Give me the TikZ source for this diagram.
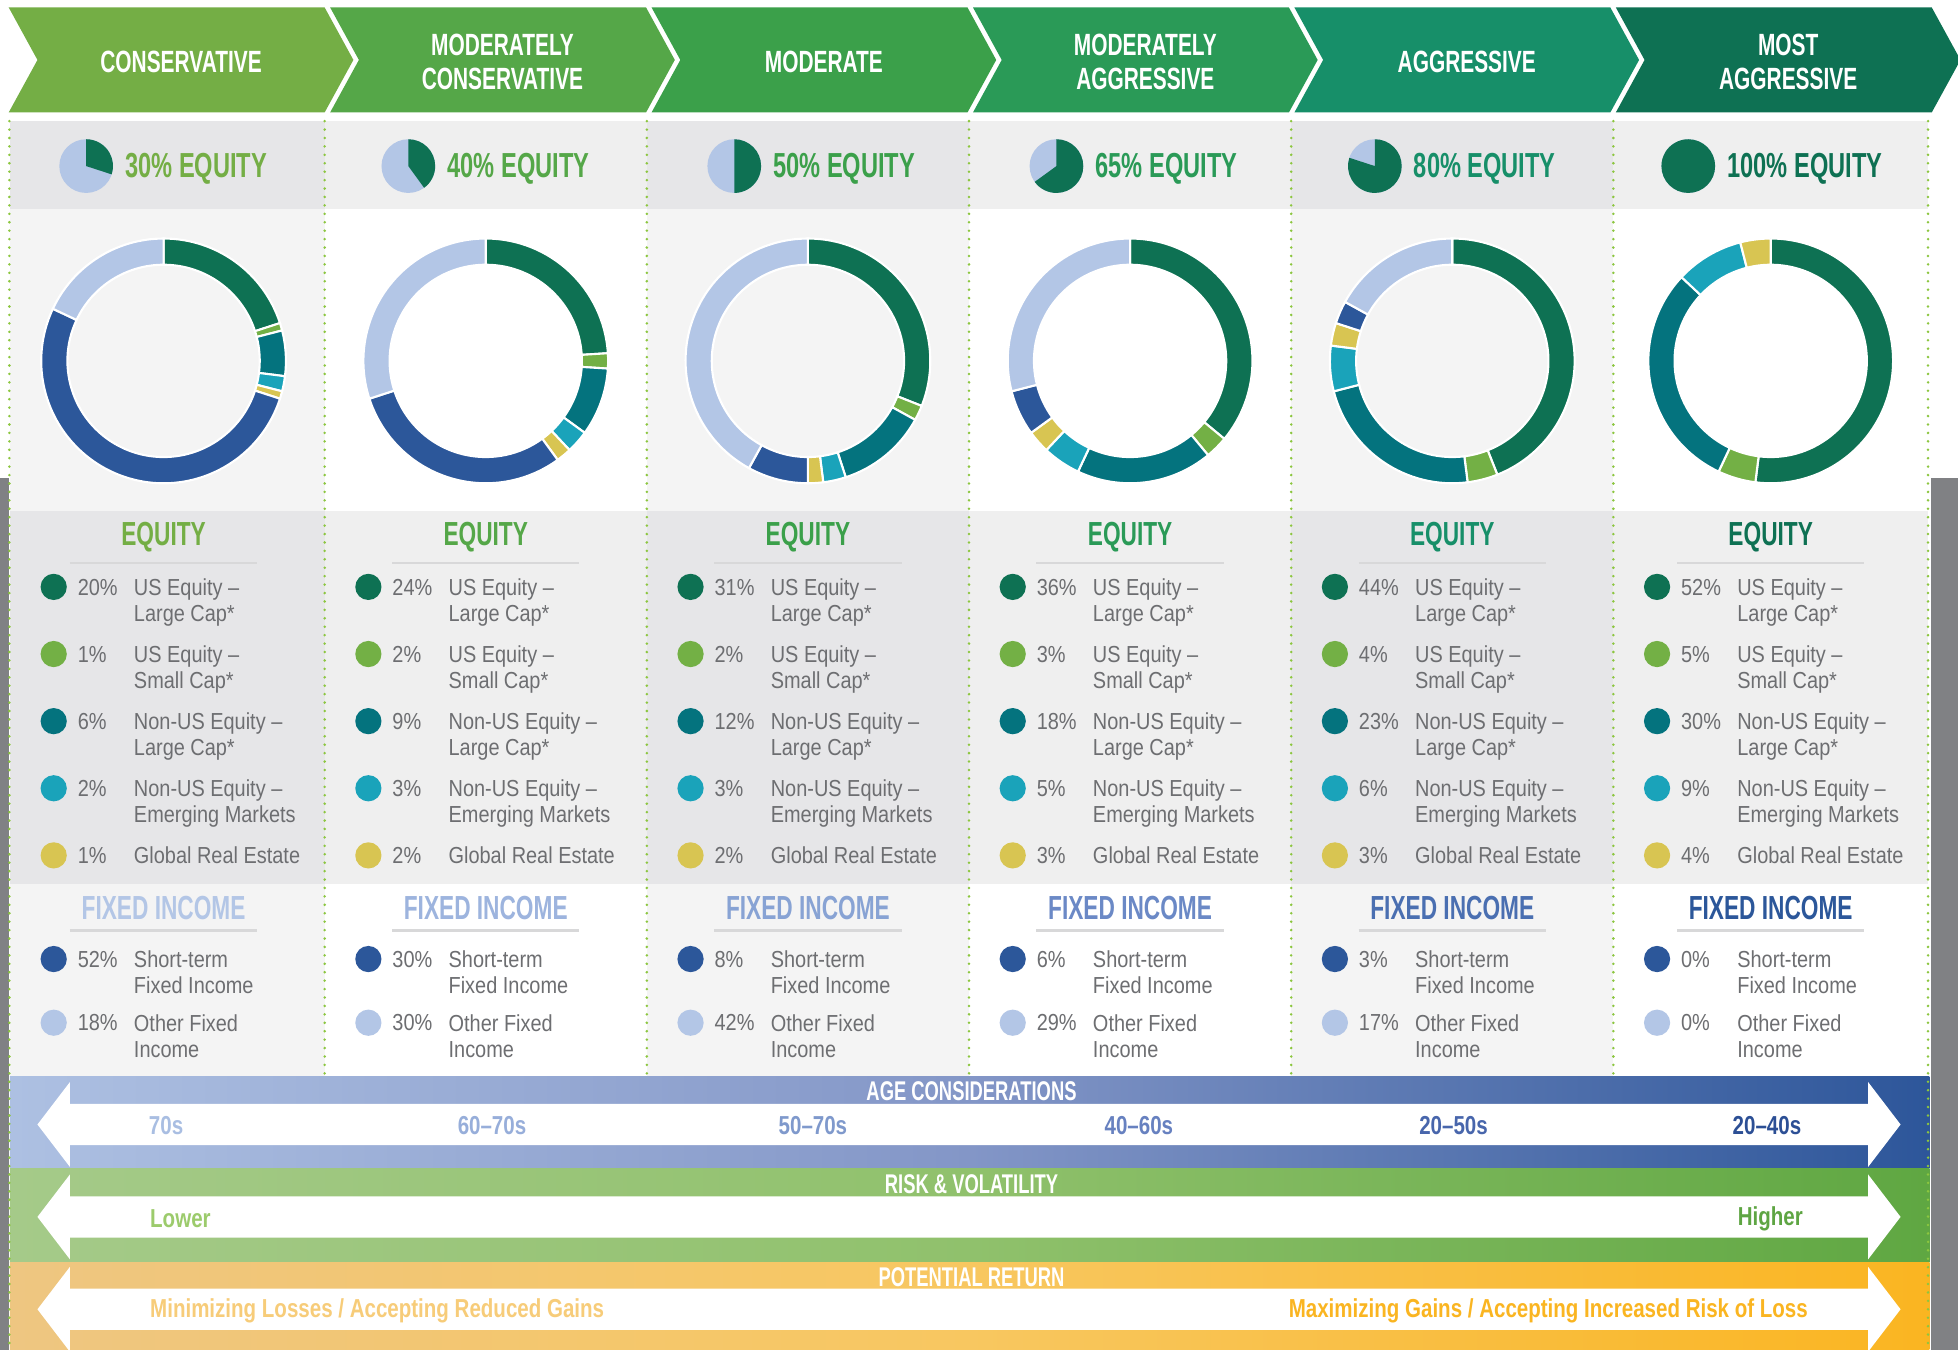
\documentclass[tikz,border=0pt]{standalone}
\usepackage{fontspec}
\usepackage{tikz}
\usetikzlibrary{positioning,calc}
\setmainfont{Liberation Sans}[FakeStretch=0.86]
\newfontfamily\condfont{Liberation Sans}[FakeStretch=0.68]
\newfontfamily\bandfont{Liberation Sans}[FakeStretch=0.79]

\definecolor{chev1}{HTML}{74AE45}
\definecolor{chev2}{HTML}{55A748}
\definecolor{chev3}{HTML}{3BA04A}
\definecolor{chev4}{HTML}{2A9A57}
\definecolor{chev5}{HTML}{178F69}
\definecolor{chev6}{HTML}{0E7153}
\definecolor{fic1}{HTML}{B3C6E6}
\definecolor{fic2}{HTML}{9DB4DE}
\definecolor{fic3}{HTML}{88A3D4}
\definecolor{fic4}{HTML}{6B89C6}
\definecolor{fic5}{HTML}{4A6FB1}
\definecolor{fic6}{HTML}{2C579A}
\definecolor{age1}{HTML}{A9BEE2}
\definecolor{age2}{HTML}{97AEDA}
\definecolor{age3}{HTML}{7F99CC}
\definecolor{age4}{HTML}{6781C0}
\definecolor{age5}{HTML}{4866AC}
\definecolor{age6}{HTML}{2C4F95}
\definecolor{usL}{HTML}{0E7153}
\definecolor{usS}{HTML}{73B045}
\definecolor{nuL}{HTML}{04737E}
\definecolor{nuE}{HTML}{1AA3BA}
\definecolor{gre}{HTML}{D8C552}
\definecolor{stf}{HTML}{2C579A}
\definecolor{ofi}{HTML}{B3C6E6}
\definecolor{txtgray}{HTML}{6D6E71}
\definecolor{bgA}{HTML}{E6E6E8}
\definecolor{bgB}{HTML}{F4F4F4}
\definecolor{bgC}{HTML}{EFEFEF}
\definecolor{rulegray}{HTML}{D8D8D9}
\definecolor{dotgreen}{HTML}{8CC63F}
\definecolor{sidegray}{HTML}{808184}
\definecolor{ageL}{HTML}{ADC0E2}
\definecolor{ageM}{HTML}{8396C7}
\definecolor{ageR}{HTML}{2D569A}
\definecolor{riskL}{HTML}{A5CA89}
\definecolor{riskM}{HTML}{90C16C}
\definecolor{riskR}{HTML}{5FA742}
\definecolor{retL}{HTML}{EEC681}
\definecolor{retM}{HTML}{F8C760}
\definecolor{retR}{HTML}{FAB521}
\definecolor{lowc}{HTML}{9CCB6C}
\definecolor{highc}{HTML}{5EA543}
\definecolor{minc}{HTML}{F7CC79}
\definecolor{maxc}{HTML}{FAB521}

\begin{document}
\begin{tikzpicture}[x=0.25mm, y=-0.25mm,
        every node/.style = {inner sep=0pt},
        chevtitle/.style = {text=white, align=center, font=\condfont\bfseries\fontsize{17.5}{19}\selectfont},
        eqlabel/.style = {anchor=base west, font=\condfont\bfseries\fontsize{19.8}{21}\selectfont},
        sechead/.style = {anchor=base, font=\condfont\bfseries\fontsize{19}{21}\selectfont},
        pct/.style = {anchor=base west, text=txtgray, font=\fontsize{13.2}{14.9}\selectfont},
        itemtxt/.style = {pct, anchor=north west, align=left},
        bandtitle/.style = {text=white, font=\condfont\bfseries\fontsize{15.4}{17}\selectfont},
        bandtxt/.style = {font=\bandfont\bfseries\fontsize{14.8}{16}\selectfont},
        headrule/.style = {draw=rulegray, line width=1.4pt},
        colline/.style = {draw=dotgreen, line width=1.6pt, line cap=round, dash pattern=on 0pt off 4.8pt}]
    \useasboundingbox (0,0) rectangle (1568,1081);
    \foreach \i/\t in {1/CONSERVATIVE, 2/{MODERATELY\\CONSERVATIVE}, 3/MODERATE, 4/{MODERATELY\\AGGRESSIVE}, 5/AGGRESSIVE, 6/{MOST\\AGGRESSIVE}}{
        \pgfmathsetmacro\chx{7+257.4*(\i-1)}
        \fill[chev\i] (\chx,6) -- (\chx+253,6) -- (\chx+276,48) -- (\chx+253,90) -- (\chx,90) -- (\chx+23,48) -- cycle;
        \node[chevtitle] (plan\i) at (\chx+138,49.5) {\t};
    }
    \foreach \cl/\cr/\ta/\tb in {8/260/bgA/bgB, 260/518/bgC/white, 518/776/bgA/bgB, 776/1034/bgC/white, 1034/1292/bgA/bgB, 1292/1544/bgC/white}{
        \fill[\ta] (\cl,97) rectangle (\cr,167);
        \fill[\tb] (\cl,167) rectangle (\cr,409);
        \fill[\ta] (\cl,409) rectangle (\cr,708);
        \fill[\tb] (\cl,708) rectangle (\cr,862);
    }
    \foreach \x in {260,518,776,1034,1292}
        \draw[colline] (\x,97) -- (\x,862);
    \foreach \i/\cl/\cx/\px/\eq/\pa/\pb/\pc/\pd/\pe/\pf/\pg in {1/8/131/69/30/20/1/6/2/1/52/18, 2/260/389/327/40/24/2/9/3/2/30/30, 3/518/647/588/50/31/2/12/3/2/8/42, 4/776/905/846/65/36/3/18/5/3/6/29, 5/1034/1163/1101/80/44/4/23/6/3/3/17, 6/1292/1418/1352/100/52/5/30/9/4/0/0}{
        \fill[ofi] (\px,133) circle[radius=21.5];
        \fill[usL] (\px,133) -- ($(\px,133)+(-90:21.5)$) arc[start angle=-90, delta angle=3.6*\eq, radius=21.5] -- cycle;
        \node[eqlabel, text=chev\i] (eq\i) at (\px+31,142.5) {\eq\% EQUITY};
        \gdef\angA{-90}
        \foreach \p/\col in {\pa/usL,\pb/usS,\pc/nuL,\pd/nuE,\pe/gre,\pf/stf,\pg/ofi}{
            \pgfmathsetmacro\angB{\angA+3.6*\p}
            \fill[\col, draw=white, line width=1.2pt] ($(\cx,289)+(\angA:98)$) arc[start angle=\angA, end angle=\angB, radius=98] -- ($(\cx,289)+(\angB:77)$) arc[start angle=\angB, end angle=\angA, radius=77] -- cycle;
            \global\let\angA\angB
        }
        \node[sechead, text=chev\i] (eqhead\i) at (\cx,437) {EQUITY};
        \draw[headrule] (\cx-75,451) -- (\cx+75,451);
        \foreach \p/\col/\t [count=\k] in {\pa/usL/{US Equity –\\Large Cap*}, \pb/usS/{US Equity –\\Small Cap*}, \pc/nuL/{Non-US Equity –\\Large Cap*}, \pd/nuE/{Non-US Equity –\\Emerging Markets}, \pe/gre/{Global Real Estate}}{
            \pgfmathsetmacro\rowy{470+53.75*(\k-1)}
            \fill[\col] (\cl+35,\rowy) circle[radius=10.5];
            \node[pct] (eqpct\i-\k) at (\cl+54,\rowy+6.6) {\p\%};
            \node[itemtxt] (eqtxt\i-\k) at (\cl+99,\rowy-6.9) {\t};
        }
        \node[sechead, text=fic\i] (fihead\i) at (\cx,736) {FIXED INCOME};
        \draw[headrule] (\cx-75,745) -- (\cx+75,745);
        \foreach \p/\col/\t/\rowy [count=\k] in {\pf/stf/{Short-term\\Fixed Income}/768, \pg/ofi/{Other Fixed\\Income}/819}{
            \fill[\col] (\cl+35,\rowy) circle[radius=10.5];
            \node[pct] (fipct\i-\k) at (\cl+54,\rowy+6.6) {\p\%};
            \node[itemtxt] (fitxt\i-\k) at (\cl+99,\rowy-6.9) {\t};
        }
    }
    \shade[left color=ageL, right color=ageR, middle color=ageM] (8,862) rectangle (1545,936);
    \shade[left color=riskL, right color=riskR, middle color=riskM] (8,936) rectangle (1545,1011);
    \shade[left color=retL, right color=retR, middle color=retM] (8,1011) rectangle (1545,1081);
    \foreach \y in {900.5,974.5,1048.5}
        \fill[white] (30,\y) -- (56,\y-34) -- (56,\y-16.5) -- (1496,\y-16.5) -- (1496,\y-34) -- (1522,\y) -- (1496,\y+34) -- (1496,\y+16.5) -- (56,\y+16.5) -- (56,\y+34) -- cycle;
    \node[bandtitle] (agetitle) at (778,874) {AGE CONSIDERATIONS};
    \node[bandtitle] (risktitle) at (778,948) {RISK \& VOLATILITY};
    \node[bandtitle] (rettitle) at (778,1023) {POTENTIAL RETURN};
    \foreach \i/\x/\t in {1/133/70s, 2/394/60–70s, 3/651/50–70s, 4/912/40–60s, 5/1164/20–50s, 6/1415/20–40s}
        \node[bandtxt, text=age\i] (age\i) at (\x,901) {\t};
    \node[bandtxt, text=lowc, anchor=west] (lower) at (120,976) {Lower};
    \node[bandtxt, text=highc, anchor=east] (higher) at (1444,976) {Higher};
    \node[bandtxt, text=minc, anchor=west] (minloss) at (120,1050) {Minimizing Losses / Accepting Reduced Gains};
    \node[bandtxt, text=maxc, anchor=east] (maxgain) at (1448,1050) {Maximizing Gains / Accepting Increased Risk of Loss};
    \fill[sidegray] (0,383) rectangle (7,1081);
    \fill[sidegray] (1546,383) rectangle (1568,1081);
    \draw[colline] (7.5,97) -- (7.5,1081);
    \draw[colline] (1544,97) -- (1544,1081);
\end{tikzpicture}
\end{document}
